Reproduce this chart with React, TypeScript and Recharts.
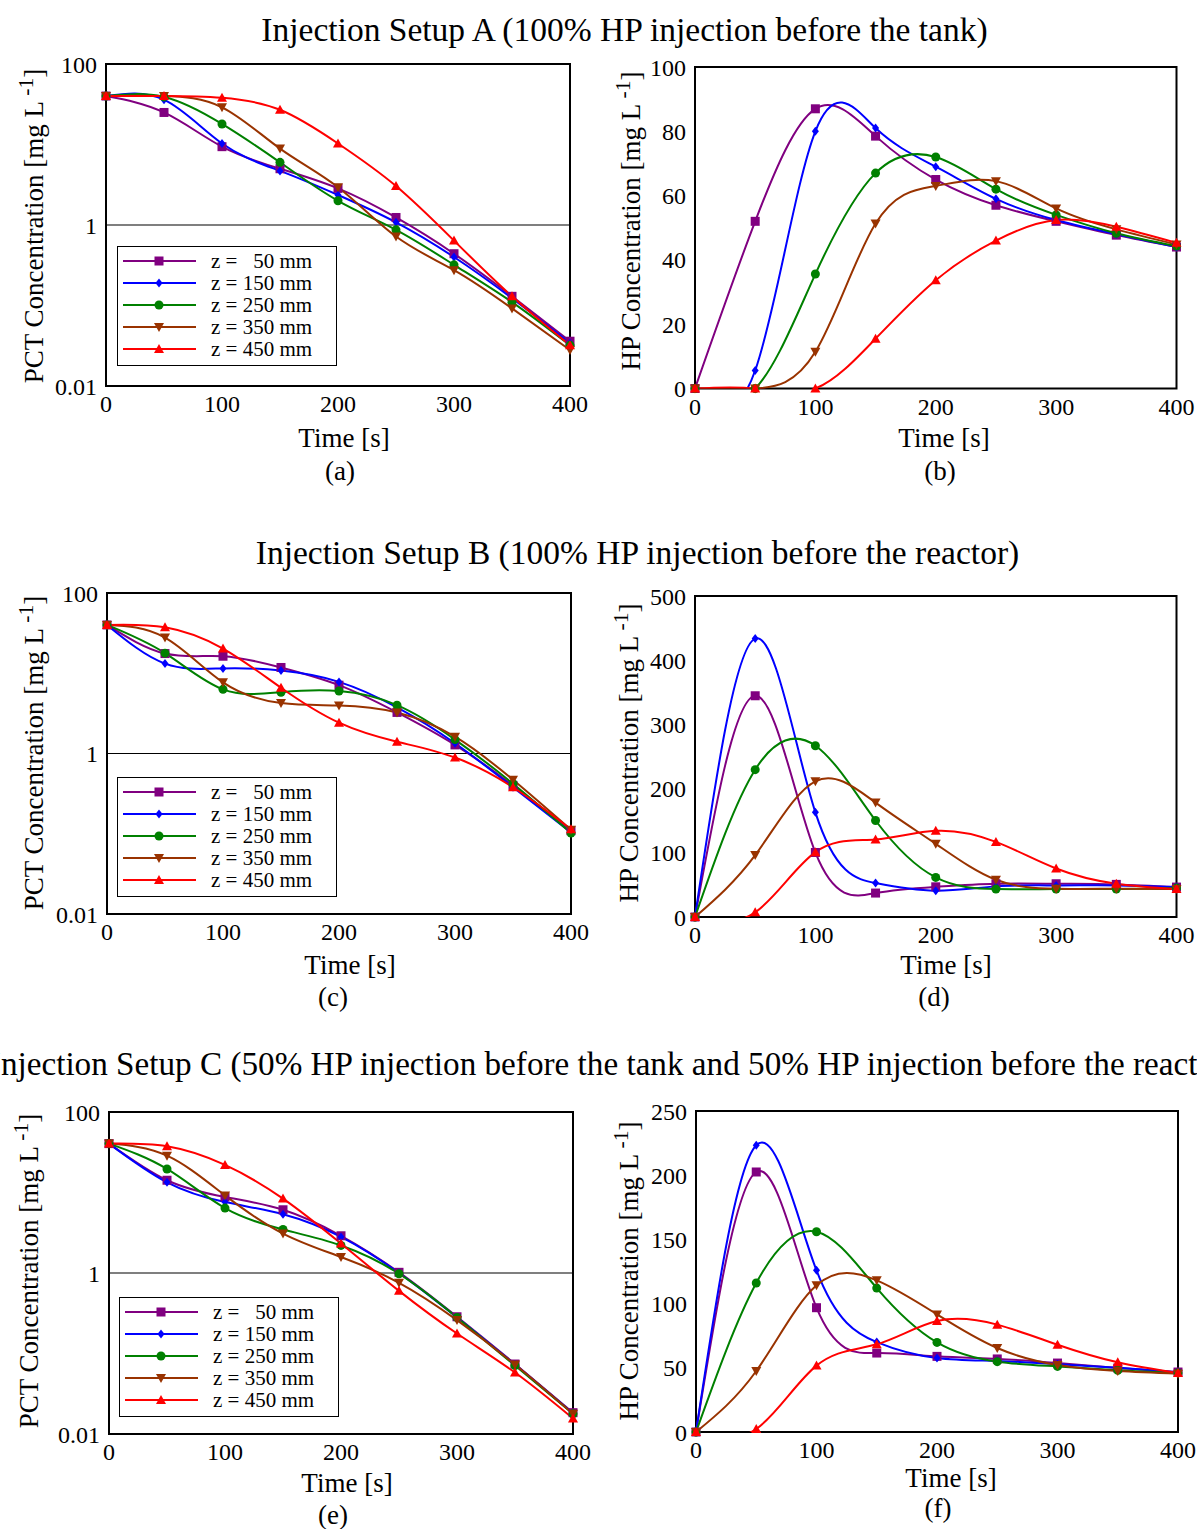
import React from 'react'
import { LineChart, Line, XAxis, YAxis, ReferenceLine, ReferenceArea, Legend } from 'recharts'

const FONT = '"Liberation Serif", "Times New Roman", serif'

const TIME = [0, 50, 100, 150, 200, 250, 300, 350, 400]
const TIME_TICKS = [0, 100, 200, 300, 400]
const PCT_TICKS = [0.01, 1, 100]

const ZONES = ['z =   50 mm', 'z = 150 mm', 'z = 250 mm', 'z = 350 mm', 'z = 450 mm']
const COLORS = ['#800080', '#0000ff', '#008000', '#993300', '#ff0000']
const SHAPES = ['square', 'diamond', 'circle', 'down', 'up']

// Setup A - PCT [mg/L]
const pctA50 = [40, 25, 9.4, 5.0, 2.85, 1.24, 0.44, 0.13, 0.036]
const pctA150 = [40, 36, 10.3, 4.7, 2.36, 1.08, 0.4, 0.123, 0.034]
const pctA250 = [40, 39, 18, 6.0, 2.0, 0.87, 0.32, 0.11, 0.032]
const pctA350 = [40, 40, 29, 8.9, 2.95, 0.72, 0.275, 0.092, 0.028]
const pctA450 = [40, 40, 38, 27, 10.3, 3.05, 0.64, 0.13, 0.032]
// Setup A - HP [mg/L]
const hpA50 = [0, 52, 87, 78.5, 65, 57, 52, 47.7, 44]
const hpA150 = [0, 5.6, 80, 81, 69, 59, 52.4, 48, 44]
const hpA250 = [0, 0, 35.6, 67, 72, 62, 54, 48.3, 44.3]
const hpA350 = [0, 0, 11.4, 51.3, 63, 64.5, 56, 49.5, 44.8]
const hpA450 = [0, 0, 0, 15.5, 33.7, 46, 52.4, 50.3, 45.3]

// Setup B
const pctB50 = [40, 17.6, 16.3, 11.8, 7.1, 3.25, 1.28, 0.4, 0.109]
const pctB150 = [40, 13.2, 11.5, 10.8, 7.8, 3.75, 1.34, 0.38, 0.104]
const pctB250 = [40, 17.8, 6.3, 5.8, 6.0, 4.0, 1.49, 0.42, 0.102]
const pctB350 = [40, 27.8, 7.7, 4.25, 3.97, 3.25, 1.62, 0.47, 0.112]
const pctB450 = [40, 37.4, 20.3, 6.6, 2.42, 1.4, 0.89, 0.38, 0.114]
const hpB50 = [0, 344.6, 100.5, 37.3, 47, 51.8, 51.8, 50.8, 46.6]
const hpB150 = [0, 433.7, 163, 52.8, 41, 47.7, 49.2, 49.2, 46.6]
const hpB250 = [0, 229.5, 266.8, 150.3, 61.7, 43.5, 43.5, 43.5, 45]
const hpB350 = [0, 96.4, 211.4, 178.2, 114, 58, 44, 44, 43.5]
const hpB450 = [0, 7.3, 101, 120.7, 134.2, 117, 75.6, 51.8, 43.5]

// Setup C
const pctC50 = [40.5, 14.2, 8.8, 6.1, 2.9, 1.02, 0.286, 0.074, 0.0184]
const pctC150 = [40.5, 13.4, 7.6, 5.37, 2.81, 1.0, 0.28, 0.073, 0.018]
const pctC250 = [40.5, 19.6, 6.4, 3.47, 2.2, 0.98, 0.28, 0.071, 0.0178]
const pctC350 = [40.5, 28.7, 9.2, 3.09, 1.58, 0.755, 0.26, 0.073, 0.0178]
const pctC450 = [40.5, 37.5, 22, 8.4, 2.32, 0.6, 0.177, 0.058, 0.0156]
const hpC50 = [0, 202.5, 96.8, 61.5, 58.9, 56.9, 53.7, 49.8, 46.7]
const hpC150 = [0, 223.3, 125.9, 70, 57.6, 55.3, 52.7, 50.1, 46.5]
const hpC250 = [0, 116, 156, 112.1, 69.8, 54.8, 51.1, 48, 46]
const hpC350 = [0, 47.5, 114.2, 118.1, 91.6, 65.4, 52.2, 47.5, 45.4]
const hpC450 = [0, 2.3, 51.7, 68.3, 86.4, 83.6, 68, 54.3, 46]

type Rect = { l: number; t: number; r: number; b: number }

function Marker({ shape, cx, cy, color }: { shape: string; cx: number; cy: number; color: string }) {
  if (shape === 'square') return <rect x={cx - 4.5} y={cy - 4.5} width={9} height={9} fill={color} />
  if (shape === 'diamond')
    return <polygon points={`${cx},${cy - 4.5} ${cx + 3.5},${cy} ${cx},${cy + 4.5} ${cx - 3.5},${cy}`} fill={color} />
  if (shape === 'circle') return <circle cx={cx} cy={cy} r={4.5} fill={color} />
  if (shape === 'down')
    return <polygon points={`${cx - 5},${cy - 4} ${cx + 5},${cy - 4} ${cx},${cy + 5}`} fill={color} />
  return <polygon points={`${cx},${cy - 5} ${cx + 5},${cy + 4} ${cx - 5},${cy + 4}`} fill={color} />
}

function LegendBox() {
  return (
    <div
      style={{
        width: 220,
        height: 120,
        boxSizing: 'border-box',
        border: '1.5px solid #000',
        background: '#fff',
        paddingTop: 3,
        fontFamily: FONT,
        fontSize: 21,
        color: '#000'
      }}
    >
      {ZONES.map((z, k) => (
        <div key={z} style={{ display: 'flex', alignItems: 'center', height: 22 }}>
          <svg width={93} height={22} style={{ flex: 'none' }}>
            <line x1={5} x2={78} y1={11} y2={11} stroke={COLORS[k]} strokeWidth={2} />
            <Marker shape={SHAPES[k]} cx={41} cy={11} color={COLORS[k]} />
          </svg>
          <span style={{ whiteSpace: 'pre', lineHeight: '22px' }}>{z}</span>
        </div>
      ))}
    </div>
  )
}

const ML = 90
const MT = 20
const MR = 30
const MB = 50

function Panel({
  rect,
  series,
  log,
  yDomain,
  yTicks,
  legendAt
}: {
  rect: Rect
  series: number[][]
  log?: boolean
  yDomain: [number, number]
  yTicks: number[]
  legendAt?: [number, number]
}) {
  const width = rect.r - rect.l + ML + MR
  const height = rect.b - rect.t + MT + MB
  const data = TIME.map((t, i) => {
    const row: Record<string, number> = { t }
    series.forEach((s, k) => (row['s' + k] = s[i]))
    return row
  })
  const tickStyle = { fill: '#000', fontSize: 24, fontFamily: FONT }
  const scale = log ? 'log' : 'linear'
  return (
    <div style={{ position: 'absolute', left: rect.l - ML, top: rect.t - MT }}>
      <LineChart width={width} height={height} data={data} margin={{ top: MT, right: MR, left: 0, bottom: 0 }}>
        <XAxis
          dataKey="t"
          type="number"
          domain={[0, 400]}
          ticks={TIME_TICKS}
          interval={0}
          height={MB}
          tickLine={false}
          axisLine={false}
          tickMargin={3}
          tick={tickStyle}
        />
        <YAxis
          yAxisId="clip"
          type="number"
          scale={scale}
          domain={yDomain}
          ticks={yTicks}
          interval={0}
          allowDataOverflow
          width={ML}
          tickLine={false}
          axisLine={false}
          tickMargin={3}
          tick={tickStyle}
          tickFormatter={(v: number) => String(v)}
        />
        <YAxis yAxisId="free" type="number" scale={scale} domain={yDomain} ticks={yTicks} hide />
        {log && <ReferenceLine yAxisId="clip" y={1} stroke="#000" strokeWidth={1.2} />}
        <ReferenceArea
          yAxisId="clip"
          x1={0}
          x2={400}
          y1={yDomain[0]}
          y2={yDomain[1]}
          fill="none"
          stroke="#000"
          strokeWidth={2}
          fillOpacity={0}
        />
        {series.map((_, k) => (
          <Line
            key={'c' + k}
            yAxisId="clip"
            dataKey={'s' + k}
            type="natural"
            stroke={COLORS[k]}
            strokeWidth={2}
            dot={false}
            activeDot={false}
            isAnimationActive={false}
          />
        ))}
        {series.map((_, k) => (
          <Line
            key={'m' + k}
            yAxisId="free"
            dataKey={'s' + k}
            stroke="none"
            strokeWidth={0}
            activeDot={false}
            isAnimationActive={false}
            dot={(p: any) => (
              <Marker key={`m${k}-${p.index}`} shape={SHAPES[k]} cx={p.cx} cy={p.cy} color={COLORS[k]} />
            )}
          />
        ))}
        {legendAt && (
          <Legend
            layout="vertical"
            align="center"
            verticalAlign="middle"
            content={() => <LegendBox />}
            wrapperStyle={{ left: legendAt[0] - (rect.l - ML), top: legendAt[1] - (rect.t - MT), width: 220 }}
          />
        )}
      </LineChart>
    </div>
  )
}

function Txt({ x, y, size, children, rotate }: { x: number; y: number; size: number; children: React.ReactNode; rotate?: boolean }) {
  return (
    <div
      style={{
        position: 'absolute',
        left: x,
        top: y,
        transform: `translate(-50%, -50%)${rotate ? ' rotate(-90deg)' : ''}`,
        whiteSpace: 'nowrap',
        fontFamily: FONT,
        fontSize: size,
        lineHeight: 1,
        color: '#000'
      }}
    >
      {children}
    </div>
  )
}

function YTitle({ x, y, name }: { x: number; y: number; name: string }) {
  return (
    <Txt x={x} y={y} size={27} rotate>
      {name} Concentration [mg L
      <span style={{ fontSize: '0.8em', position: 'relative', top: '-0.45em' }}> -1</span>]
    </Txt>
  )
}

const RA: Rect = { l: 106, t: 63.5, r: 570, b: 385.5 }
const RB: Rect = { l: 694.5, t: 67, r: 1176, b: 388.5 }
const RC: Rect = { l: 106.5, t: 593, r: 570.5, b: 914 }
const RD: Rect = { l: 694.5, t: 596, r: 1176, b: 917 }
const RE: Rect = { l: 109, t: 1111.5, r: 573, b: 1433.5 }
const RF: Rect = { l: 696, t: 1110.5, r: 1178, b: 1431.5 }

export default function App() {
  return (
    <div
      style={{
        position: 'absolute',
        left: 0,
        top: 0,
        width: 1197,
        height: 1529,
        overflow: 'hidden',
        background: '#fff'
      }}
    >
      <Txt x={624.5} y={30} size={33.5}>Injection Setup A (100% HP injection before the tank)</Txt>
      <Txt x={637.5} y={553} size={33.5}>Injection Setup B (100% HP injection before the reactor)</Txt>
      <Txt x={613} y={1064} size={33.2}>
        Injection Setup C (50% HP injection before the tank and 50% HP injection before the reactor)
      </Txt>

      <Panel
        rect={RA}
        log
        yDomain={[0.01, 100]}
        yTicks={PCT_TICKS}
        series={[pctA50, pctA150, pctA250, pctA350, pctA450]}
        legendAt={[117, 246]}
      />
      <Panel rect={RB} yDomain={[0, 100]} yTicks={[0, 20, 40, 60, 80, 100]} series={[hpA50, hpA150, hpA250, hpA350, hpA450]} />
      <Panel
        rect={RC}
        log
        yDomain={[0.01, 100]}
        yTicks={PCT_TICKS}
        series={[pctB50, pctB150, pctB250, pctB350, pctB450]}
        legendAt={[117, 777]}
      />
      <Panel
        rect={RD}
        yDomain={[0, 500]}
        yTicks={[0, 100, 200, 300, 400, 500]}
        series={[hpB50, hpB150, hpB250, hpB350, hpB450]}
      />
      <Panel
        rect={RE}
        log
        yDomain={[0.01, 100]}
        yTicks={PCT_TICKS}
        series={[pctC50, pctC150, pctC250, pctC350, pctC450]}
        legendAt={[119, 1297]}
      />
      <Panel
        rect={RF}
        yDomain={[0, 250]}
        yTicks={[0, 50, 100, 150, 200, 250]}
        series={[hpC50, hpC150, hpC250, hpC350, hpC450]}
      />

      <YTitle x={34} y={226} name="PCT" />
      <YTitle x={631} y={221} name="HP" />
      <YTitle x={33.5} y={753} name="PCT" />
      <YTitle x={628.5} y={753} name="HP" />
      <YTitle x={28.5} y={1271} name="PCT" />
      <YTitle x={628.5} y={1271} name="HP" />

      <Txt x={344} y={438} size={27}>Time [s]</Txt>
      <Txt x={944} y={438} size={27}>Time [s]</Txt>
      <Txt x={350} y={965} size={27}>Time [s]</Txt>
      <Txt x={946} y={965} size={27}>Time [s]</Txt>
      <Txt x={347} y={1483} size={27}>Time [s]</Txt>
      <Txt x={951} y={1478} size={27}>Time [s]</Txt>

      <Txt x={340} y={471} size={27}>(a)</Txt>
      <Txt x={940} y={471} size={27}>(b)</Txt>
      <Txt x={333} y={997} size={27}>(c)</Txt>
      <Txt x={934} y={997} size={27}>(d)</Txt>
      <Txt x={333} y={1515} size={27}>(e)</Txt>
      <Txt x={938} y={1508} size={27}>(f)</Txt>
    </div>
  )
}
